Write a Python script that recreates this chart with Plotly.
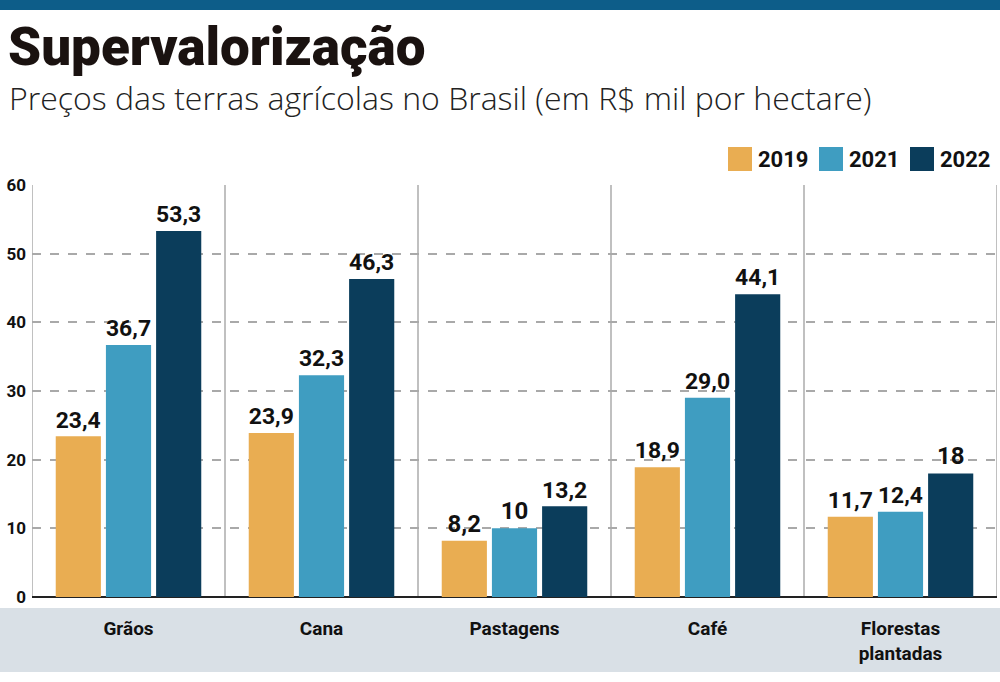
import plotly.graph_objects as go

categories = ["Grãos", "Cana", "Pastagens", "Café", "Florestas<br>plantadas"]
years = ["2019", "2021", "2022"]
v2019 = [23.4, 23.9, 8.2, 18.9, 11.7]
v2021 = [36.7, 32.3, 10.0, 29.0, 12.4]
v2022 = [53.3, 46.3, 13.2, 44.1, 18.0]
t2019 = ["23,4", "23,9", "8,2", "18,9", "11,7"]
t2021 = ["36,7", "32,3", "10", "29,0", "12,4"]
t2022 = ["53,3", "46,3", "13,2", "44,1", "18"]
yticks = [0, 10, 20, 30, 40, 50, 60]
colors = ["#e9ad52", "#3f9dc1", "#0b3d5b"]

W, H = 1000, 682
L, R, T, B = 32, 3, 185, 85
pw, ph = W - L - R, H - T - B

def px(x):
    return (x - L) / pw

def py(y):
    return (H - B - y) / ph

FONT = "Roboto, Arial"

fig = go.Figure()
xs = list(range(len(categories)))
for vals, txt, yr, c in zip([v2019, v2021, v2022], [t2019, t2021, t2022], years, colors):
    fig.add_trace(go.Bar(
        x=xs, y=vals, name=yr, marker=dict(color=c, line=dict(width=0)),
        text=txt, textposition="outside", cliponaxis=False,
        textfont=dict(family=FONT, size=24, color="#111", weight="bold"),
        showlegend=False, hoverinfo="skip",
    ))

shapes = []
shapes.append(dict(type="rect", xref="paper", yref="paper", x0=px(0), x1=px(W), y0=py(10), y1=py(0),
                   fillcolor="#0d5d89", line=dict(width=0), layer="below"))
shapes.append(dict(type="rect", xref="paper", yref="paper", x0=px(0), x1=px(W), y0=py(672), y1=py(608),
                   fillcolor="#d9e0e6", line=dict(width=0), layer="below"))
for i in range(len(categories) + 1):
    shapes.append(dict(type="line", xref="x", yref="y", x0=i - 0.5, x1=i - 0.5, y0=0, y1=60,
                       line=dict(color="#c0c0c0", width=2), layer="below"))
leg_x = [728, 819, 910]
annotations = []
for lx, yr, c in zip(leg_x, years, colors):
    shapes.append(dict(type="rect", xref="paper", yref="paper", x0=px(lx), x1=px(lx + 24),
                       y0=py(171), y1=py(147), fillcolor=c, line=dict(width=0)))
    annotations.append(dict(text=yr, xref="paper", yref="paper", x=px(lx + 28), y=py(159),
                            xanchor="left", yanchor="middle", showarrow=False,
                            font=dict(family=FONT, size=22, color="#111", weight="bold")))

annotations.append(dict(text="Preços das terras agrícolas no Brasil (em R$ mil por hectare)",
                        xref="paper", yref="paper", x=px(7), y=py(97), xanchor="left", yanchor="middle",
                        showarrow=False, font=dict(family="Open Sans, Roboto", size=32, color="#222", weight=300)))

fig.update_layout(
    width=W, height=H,
    margin=dict(l=L, r=R, t=T, b=B),
    paper_bgcolor="white", plot_bgcolor="white",
    barmode="group", bargap=0.22, bargroupgap=0.1,
    title=dict(text="Supervalorização", xref="container", yref="container", x=0.008, y=1 - 28 / H,
               xanchor="left", yanchor="top",
               font=dict(family="Roboto, Inter, Arial", size=53, color="#1a1210", weight=900)),
    shapes=shapes, annotations=annotations,
    xaxis=dict(range=[-0.5, len(categories) - 0.5], tickmode="array", tickvals=xs, ticktext=categories,
               showgrid=False, showline=False, ticks="", zeroline=False, ticklabelstandoff=18,
               tickfont=dict(family=FONT, size=19, color="#111", weight="bold")),
    yaxis=dict(range=[0, 60], tickmode="array", tickvals=yticks, ticktext=[str(t) for t in yticks],
               showgrid=True, gridcolor="#a9a9a9", griddash="dash", gridwidth=2,
               zeroline=True, zerolinecolor="#222", zerolinewidth=2, showline=False, ticks="",
               ticklabelstandoff=5,
               tickfont=dict(family=FONT, size=17, color="#111", weight="bold")),
)

fig.write_html("out.html", config={"displayModeBar": False},
               post_script="document.body.style.margin='0';")
